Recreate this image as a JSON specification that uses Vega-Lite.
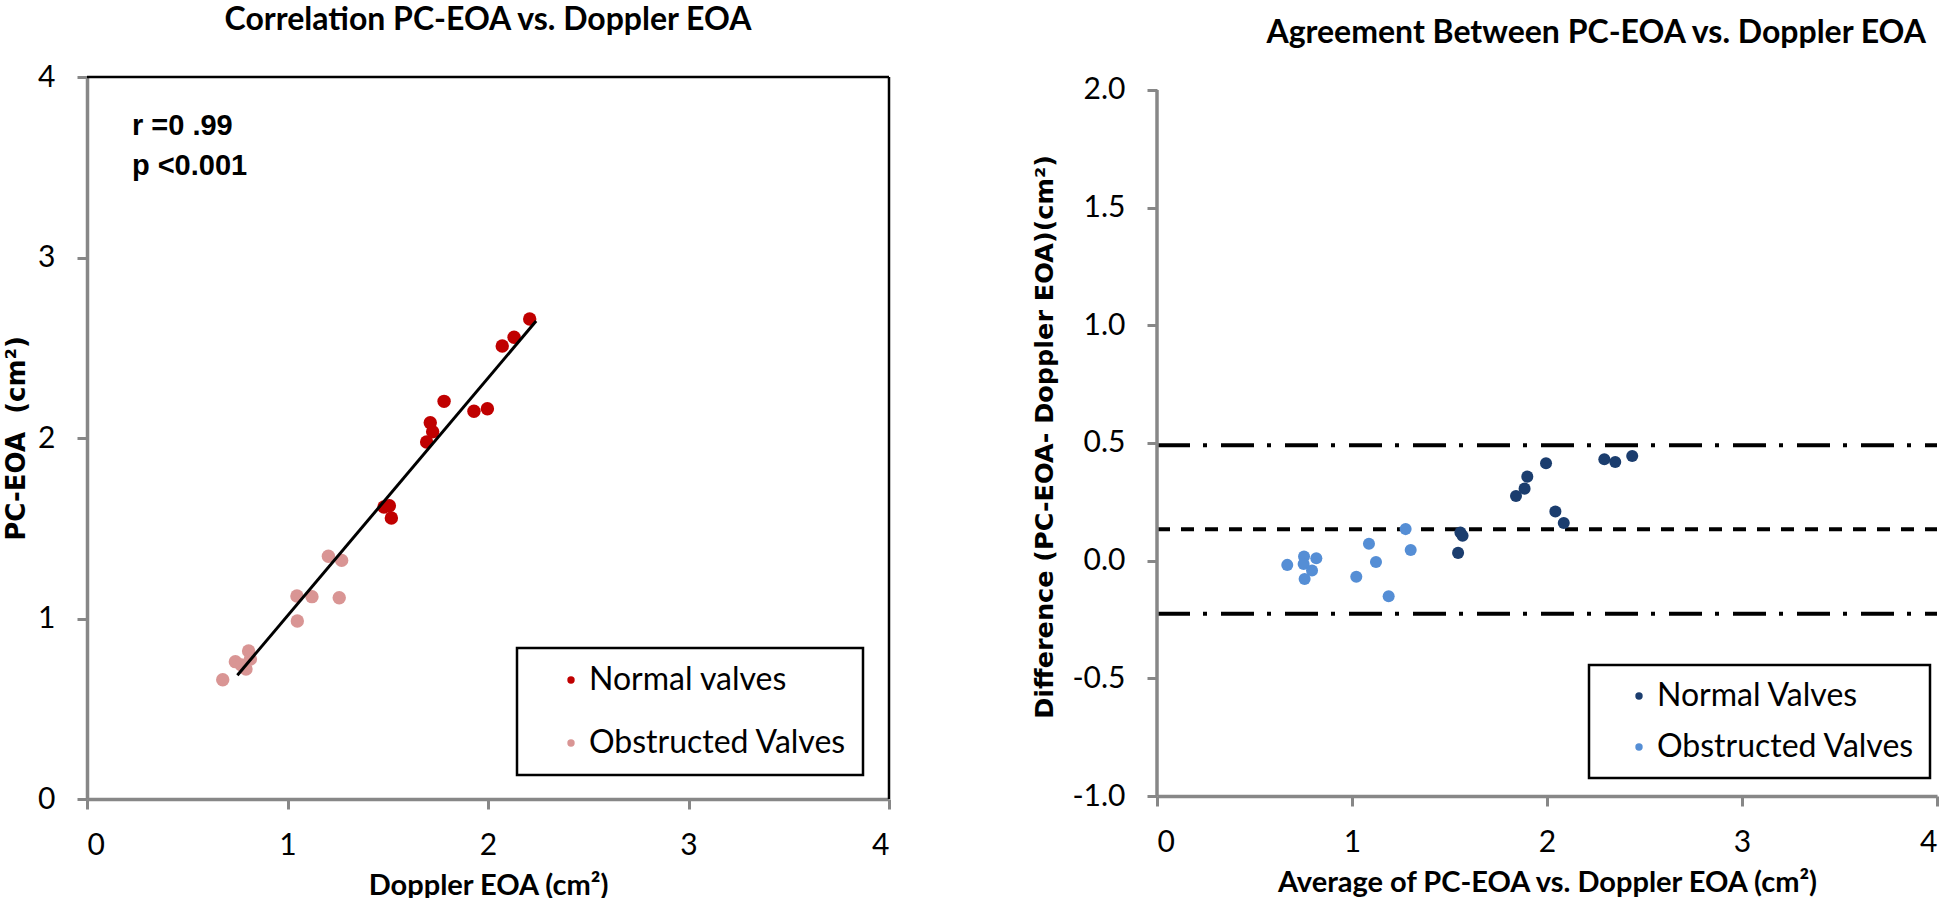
{
  "$schema": "https://vega.github.io/schema/vega-lite/v6.json",
  "padding": {"left": 3, "top": 4, "right": 0, "bottom": 0},
  "background": "white",
  "bounds": "flush",
  "spacing": 268,
  "config": {
    "font": "Lato",
    "view": {"stroke": null},
    "legend": {"strokeWidth": 2.5},
    "axis": {
      "grid": false,
      "domainColor": "#878787",
      "domainWidth": 3.5,
      "tickColor": "#878787",
      "tickWidth": 3,
      "tickSize": 10,
      "labelFont": "Lato",
      "labelFontSize": 30,
      "labelColor": "black",
      "titleColor": "black"
    }
  },
  "resolve": {
    "scale": {"x": "independent", "y": "independent", "color": "independent"},
    "legend": {"color": "independent"}
  },
  "datasets": {
    "corr": [
      {"doppler": 2.208, "pc": 2.659, "group": "Normal valves"},
      {"doppler": 2.130, "pc": 2.558, "group": "Normal valves"},
      {"doppler": 2.071, "pc": 2.510, "group": "Normal valves"},
      {"doppler": 1.781, "pc": 2.203, "group": "Normal valves"},
      {"doppler": 1.930, "pc": 2.148, "group": "Normal valves"},
      {"doppler": 1.997, "pc": 2.162, "group": "Normal valves"},
      {"doppler": 1.712, "pc": 2.085, "group": "Normal valves"},
      {"doppler": 1.724, "pc": 2.035, "group": "Normal valves"},
      {"doppler": 1.694, "pc": 1.978, "group": "Normal valves"},
      {"doppler": 1.481, "pc": 1.618, "group": "Normal valves"},
      {"doppler": 1.508, "pc": 1.625, "group": "Normal valves"},
      {"doppler": 1.518, "pc": 1.557, "group": "Normal valves"},
      {"doppler": 1.204, "pc": 1.345, "group": "Obstructed Valves"},
      {"doppler": 1.270, "pc": 1.322, "group": "Obstructed Valves"},
      {"doppler": 1.047, "pc": 1.125, "group": "Obstructed Valves"},
      {"doppler": 1.122, "pc": 1.121, "group": "Obstructed Valves"},
      {"doppler": 1.258, "pc": 1.115, "group": "Obstructed Valves"},
      {"doppler": 1.049, "pc": 0.986, "group": "Obstructed Valves"},
      {"doppler": 0.677, "pc": 0.661, "group": "Obstructed Valves"},
      {"doppler": 0.740, "pc": 0.761, "group": "Obstructed Valves"},
      {"doppler": 0.806, "pc": 0.820, "group": "Obstructed Valves"},
      {"doppler": 0.815, "pc": 0.776, "group": "Obstructed Valves"},
      {"doppler": 0.793, "pc": 0.720, "group": "Obstructed Valves"},
      {"doppler": 0.770, "pc": 0.742, "group": "Obstructed Valves"}
    ],
    "fit": [
      {"x": 0.75, "y": 0.686},
      {"x": 2.24, "y": 2.648}
    ],
    "ba": [
      {"avg": 0.668, "diff": -0.018, "group": "Obstructed Valves"},
      {"avg": 0.754, "diff": 0.018, "group": "Obstructed Valves"},
      {"avg": 0.817, "diff": 0.010, "group": "Obstructed Valves"},
      {"avg": 0.752, "diff": -0.014, "group": "Obstructed Valves"},
      {"avg": 0.795, "diff": -0.042, "group": "Obstructed Valves"},
      {"avg": 0.757, "diff": -0.078, "group": "Obstructed Valves"},
      {"avg": 1.022, "diff": -0.068, "group": "Obstructed Valves"},
      {"avg": 1.087, "diff": 0.072, "group": "Obstructed Valves"},
      {"avg": 1.123, "diff": -0.006, "group": "Obstructed Valves"},
      {"avg": 1.188, "diff": -0.151, "group": "Obstructed Valves"},
      {"avg": 1.275, "diff": 0.134, "group": "Obstructed Valves"},
      {"avg": 1.301, "diff": 0.045, "group": "Obstructed Valves"},
      {"avg": 1.556, "diff": 0.120, "group": "Normal Valves"},
      {"avg": 1.567, "diff": 0.106, "group": "Normal Valves"},
      {"avg": 1.544, "diff": 0.033, "group": "Normal Valves"},
      {"avg": 1.841, "diff": 0.275, "group": "Normal Valves"},
      {"avg": 1.885, "diff": 0.306, "group": "Normal Valves"},
      {"avg": 1.899, "diff": 0.357, "group": "Normal Valves"},
      {"avg": 1.995, "diff": 0.414, "group": "Normal Valves"},
      {"avg": 2.043, "diff": 0.209, "group": "Normal Valves"},
      {"avg": 2.086, "diff": 0.160, "group": "Normal Valves"},
      {"avg": 2.294, "diff": 0.431, "group": "Normal Valves"},
      {"avg": 2.350, "diff": 0.419, "group": "Normal Valves"},
      {"avg": 2.437, "diff": 0.445, "group": "Normal Valves"}
    ],
    "limits": [
      {"kind": "upper", "value": 0.49},
      {"kind": "mean", "value": 0.133},
      {"kind": "lower", "value": -0.226}
    ]
  },
  "hconcat": [
    {
      "width": 802,
      "height": 722,
      "title": {
        "text": "Correlation PC-EOA vs. Doppler EOA",
        "anchor": "middle",
        "frame": "group",
        "baseline": "alphabetic",
        "offset": 0,
        "font": "Lato",
        "fontSize": 32,
        "fontWeight": "bold",
        "color": "black"
      },
      "layer": [
        {
          "data": {"name": "corr"},
          "mark": {"type": "circle", "size": 180, "opacity": 1},
          "encoding": {
            "x": {
              "field": "doppler", "type": "quantitative",
              "scale": {"domain": [0, 4], "nice": false, "zero": false},
              "axis": {
                "values": [0, 1, 2, 3, 4], "format": "d",
                "labelPadding": 21,
                "title": "Doppler EOA (cm²)",
                "titleFont": "Lato", "titleFontSize": 29, "titleFontWeight": "bold",
                "titlePadding": 11
              }
            },
            "y": {
              "field": "pc", "type": "quantitative",
              "scale": {"domain": [0, 4], "nice": false, "zero": false},
              "axis": {
                "values": [0, 1, 2, 3, 4], "format": "d",
                "labelPadding": 22,
                "title": "PC-EOA\u00a0 (cm²)",
                "titleFont": "DejaVu Sans", "titleFontSize": 26, "titleFontWeight": "bold",
                "titlePadding": 8
              }
            },
            "color": {
              "field": "group", "type": "nominal",
              "scale": {"domain": ["Normal valves", "Obstructed Valves"], "range": ["#C00000", "#D99594"]},
              "legend": {
                "title": null,
                "orient": "none",
                "legendX": 430,
                "legendY": 571,
                "strokeColor": "black",
                "fillColor": "white",
                "padding": 16,
                "symbolType": "circle",
                "symbolSize": 55,
                "symbolOpacity": 1,
                "symbolStrokeWidth": 0,
                "symbolOffset": 22,
                "labelOffset": 2,
                "labelFont": "Lato",
                "labelFontSize": 32,
                "labelColor": "black",
                "labelLimit": 400,
                "rowPadding": 31
              }
            }
          }
        },
        {
          "data": {"name": "fit"},
          "mark": {"type": "line", "color": "black", "strokeWidth": 3},
          "encoding": {
            "x": {"field": "x", "type": "quantitative"},
            "y": {"field": "y", "type": "quantitative"}
          }
        },
        {
          "data": {"values": [{}]},
          "mark": {"type": "rule", "color": "black", "strokeWidth": 2.5},
          "encoding": {"x": {"datum": 0}, "x2": {"datum": 4}, "y": {"datum": 4}}
        },
        {
          "data": {"values": [{}]},
          "mark": {"type": "rule", "color": "black", "strokeWidth": 2.5},
          "encoding": {"x": {"datum": 4}, "y": {"datum": 0}, "y2": {"datum": 4}}
        },
        {
          "data": {"values": [{"label": "r =0 .99"}]},
          "mark": {"type": "text", "align": "left", "baseline": "alphabetic", "font": "Liberation Sans", "fontSize": 29, "fontWeight": "bold", "color": "black"},
          "encoding": {"x": {"datum": 0.224}, "y": {"datum": 3.679}, "text": {"field": "label"}}
        },
        {
          "data": {"values": [{"label": "p <0.001"}]},
          "mark": {"type": "text", "align": "left", "baseline": "alphabetic", "font": "Liberation Sans", "fontSize": 29, "fontWeight": "bold", "color": "black"},
          "encoding": {"x": {"datum": 0.224}, "y": {"datum": 3.457}, "text": {"field": "label"}}
        }
      ]
    },
    {
      "width": 780,
      "height": 719,
      "title": {
        "text": "Agreement Between PC-EOA vs. Doppler EOA",
        "anchor": "end",
        "frame": "group",
        "dx": -11,
        "baseline": "alphabetic",
        "offset": 0,
        "font": "Lato",
        "fontSize": 32,
        "fontWeight": "bold",
        "color": "black"
      },
      "layer": [
        {
          "data": {"name": "limits"},
          "mark": {"type": "rule", "color": "black", "strokeWidth": 4},
          "encoding": {
            "x": {"datum": 0},
            "x2": {"datum": 4},
            "y": {"field": "value", "type": "quantitative"},
            "strokeDash": {
              "field": "kind", "type": "nominal",
              "scale": {"domain": ["upper", "mean", "lower"], "range": [[33, 13, 4, 14], [13, 11], [33, 13, 4, 14]]},
              "legend": null
            }
          }
        },
        {
          "data": {"values": [{}]},
          "mark": {"type": "rule", "color": "#878787", "strokeWidth": 3.5},
          "encoding": {"x": {"datum": 0}, "y": {"datum": -1}, "y2": {"datum": 2}}
        },
        {
          "data": {"name": "ba"},
          "mark": {"type": "circle", "size": 145, "opacity": 1},
          "encoding": {
            "x": {
              "field": "avg", "type": "quantitative",
              "scale": {"domain": [0, 4], "nice": false, "zero": false},
              "axis": {
                "values": [0, 1, 2, 3, 4], "format": "d",
                "labelPadding": 21,
                "title": "Average of PC-EOA vs. Doppler EOA (cm²)",
                "titleFont": "Lato", "titleFontSize": 29, "titleFontWeight": "bold",
                "titlePadding": 11
              }
            },
            "y": {
              "field": "diff", "type": "quantitative",
              "scale": {"domain": [-1, 2.055], "nice": false, "zero": false},
              "axis": {
                "values": [-1, -0.5, 0, 0.5, 1, 1.5, 2],
                "labelExpr": "datum.value < 0 ? '-' + format(-datum.value, '.1f') : format(datum.value, '.1f')",
                "domain": false,
                "labelPadding": 22,
                "title": "Difference (PC-EOA- Doppler EOA)(cm²)",
                "titleFont": "DejaVu Sans", "titleFontSize": 25.5, "titleFontWeight": "bold",
                "titlePadding": 14
              }
            },
            "color": {
              "field": "group", "type": "nominal",
              "scale": {"domain": ["Normal Valves", "Obstructed Valves"], "range": ["#1B3D6E", "#558ED5"]},
              "legend": {
                "title": null,
                "orient": "none",
                "legendX": 432,
                "legendY": 588,
                "strokeColor": "black",
                "fillColor": "white",
                "padding": 15,
                "symbolType": "circle",
                "symbolSize": 55,
                "symbolOpacity": 1,
                "symbolStrokeWidth": 0,
                "symbolOffset": 19,
                "labelOffset": 2,
                "labelFont": "Lato",
                "labelFontSize": 32,
                "labelColor": "black",
                "labelLimit": 400,
                "rowPadding": 19
              }
            }
          }
        }
      ]
    }
  ]
}
